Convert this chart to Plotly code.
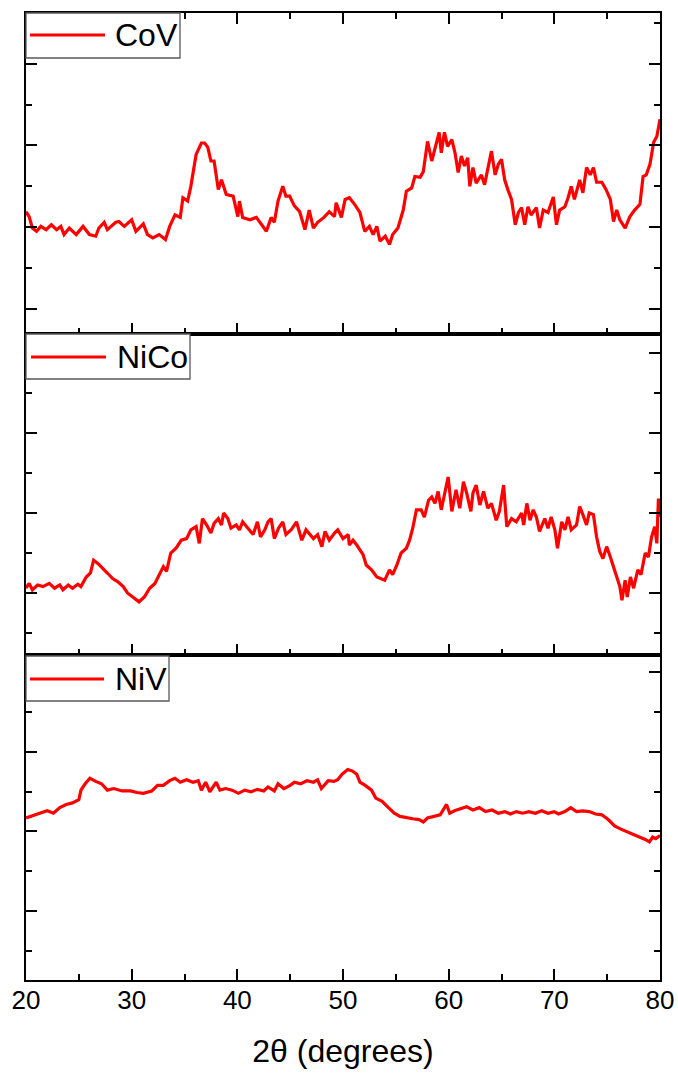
import plotly.graph_objects as go
from plotly.subplots import make_subplots

# ---------------- data ----------------
cov_2theta = [20.0, 20.3, 20.6, 21.0, 21.4, 21.9, 22.4, 22.9, 23.3, 23.6, 24.1, 24.75, 25.4, 26.0, 26.6, 26.9,
              27.4, 27.7, 28.5, 28.8, 29.3, 30.0, 30.4, 31.1, 31.5, 32.0, 32.6, 33.2, 33.6, 34.1, 34.6, 34.85,
              35.3, 35.6, 36.1, 36.6, 36.9, 37.2, 37.5, 37.8, 38.2, 38.5, 38.95, 39.6, 40.05, 40.2, 40.5, 41.2,
              41.8, 42.4, 42.75, 43.2, 43.5, 43.85, 44.3, 44.6, 44.95, 45.4, 45.9, 46.4, 46.8, 47.2, 47.6, 48.2,
              48.7, 49.2, 49.35, 49.85, 50.2, 50.6, 51.1, 51.6, 52.06, 52.5, 52.85, 53.2, 53.5, 54.0, 54.4, 54.7,
              55.2, 55.7, 56.0, 56.5, 56.8, 57.3, 57.6, 58.0, 58.4, 58.8, 59.1, 59.3, 59.6, 59.9, 60.3, 60.6,
              60.9, 61.2, 61.5, 61.8, 62.0, 62.3, 62.6, 63.1, 63.4, 63.7, 64.05, 64.4, 64.7, 65.0, 65.3, 65.6,
              65.95, 66.3, 66.6, 66.9, 67.2, 67.5, 67.8, 68.3, 68.6, 68.95, 69.4, 69.9, 70.2, 70.5, 71.0, 71.3,
              71.6, 71.9, 72.4, 72.7, 73.05, 73.4, 73.7, 74.0, 74.5, 74.9, 75.3, 75.6, 75.9, 76.2, 76.7, 77.15,
              77.6, 78.1, 78.4, 78.7, 79.05, 79.4, 79.7, 80.0]
cov_int = [1.19, 1.13, 0.99, 0.95, 1.01, 0.97, 1.03, 0.97, 1.01, 0.91, 0.99, 0.91, 1.01, 0.91, 0.89, 0.99,
           1.06, 0.97, 1.06, 1.07, 1.01, 1.09, 0.95, 1.04, 0.91, 0.87, 0.91, 0.85, 1.01, 1.15, 1.12, 1.36,
           1.32, 1.50, 1.89, 2.03, 2.03, 1.98, 1.81, 1.81, 1.46, 1.58, 1.40, 1.38, 1.13, 1.32, 1.12, 1.09,
           1.12, 1.01, 0.95, 1.12, 1.06, 1.32, 1.50, 1.38, 1.38, 1.26, 1.19, 0.97, 1.21, 0.99, 1.06, 1.12,
           1.19, 1.13, 1.30, 1.12, 1.34, 1.36, 1.28, 1.18, 0.95, 1.01, 0.91, 1.01, 0.83, 0.89, 0.79, 0.91,
           0.99, 1.21, 1.44, 1.48, 1.62, 1.61, 1.68, 2.05, 1.81, 2.01, 2.16, 1.91, 2.16, 1.99, 2.07, 1.91,
           1.67, 1.87, 1.75, 1.85, 1.50, 1.73, 1.54, 1.64, 1.52, 1.71, 1.93, 1.64, 1.77, 1.83, 1.58, 1.46,
           1.34, 1.03, 1.18, 1.24, 1.03, 1.25, 1.15, 1.24, 0.99, 1.21, 1.18, 1.37, 1.03, 1.21, 1.25, 1.36,
           1.50, 1.34, 1.58, 1.42, 1.73, 1.64, 1.73, 1.55, 1.55, 1.46, 1.34, 1.07, 1.21, 1.09, 0.99, 1.13,
           1.21, 1.28, 1.62, 1.64, 1.77, 2.04, 2.11, 2.32]

nico_2theta = [20.0, 20.3, 20.6, 21.1, 21.6, 22.2, 22.7, 23.2, 23.5, 24.0, 24.4, 24.9, 25.2, 25.7, 26.1, 26.4,
               26.8, 27.3, 27.7, 28.2, 28.7, 29.2, 29.6, 30.1, 30.7, 31.2, 31.7, 32.2, 32.6, 33.0, 33.3, 33.7,
               34.2, 34.7, 35.2, 35.6, 36.1, 36.4, 36.7, 37.1, 37.5, 37.8, 38.2, 38.5, 38.7, 39.1, 39.4, 39.9,
               40.2, 40.5, 41.0, 41.5, 41.9, 42.2, 42.6, 42.9, 43.2, 43.5, 43.9, 44.3, 44.6, 45.1, 45.6, 46.1,
               46.5, 47.2, 47.6, 48.0, 48.3, 48.7, 49.2, 49.5, 50.0, 50.5, 50.6, 50.95, 51.3, 51.6, 51.9, 52.2,
               52.7, 53.2, 53.6, 53.95, 54.4, 54.7, 55.1, 55.5, 56.0, 56.3, 56.6, 56.95, 57.4, 57.7, 58.1, 58.4,
               58.7, 59.0, 59.3, 59.6, 59.95, 60.3, 60.7, 61.05, 61.4, 61.7, 62.1, 62.3, 62.6, 62.95, 63.3, 63.7,
               64.05, 64.5, 64.8, 65.2, 65.5, 65.95, 66.4, 66.9, 67.1, 67.4, 67.7, 68.0, 68.3, 68.6, 69.1, 69.4,
               69.7, 70.05, 70.3, 70.7, 71.0, 71.3, 71.6, 72.1, 72.4, 72.7, 73.05, 73.3, 73.7, 74.0, 74.3, 74.6,
               74.95, 75.3, 75.6, 75.9, 76.2, 76.4, 76.7, 76.9, 77.2, 77.5, 77.9, 78.2, 78.6, 78.9, 79.2, 79.5,
               79.7, 79.85, 80.0]
nico_int = [0.06, 0.12, 0.04, 0.10, 0.08, 0.12, 0.06, 0.10, 0.04, 0.10, 0.06, 0.11, 0.08, 0.20, 0.25, 0.41,
            0.37, 0.31, 0.25, 0.18, 0.14, 0.08, 0.00, -0.05, -0.11, -0.05, 0.06, 0.12, 0.23, 0.33, 0.27, 0.50,
            0.56, 0.66, 0.68, 0.79, 0.83, 0.62, 0.93, 0.85, 0.75, 0.87, 0.93, 0.85, 1.00, 0.93, 0.81, 0.85,
            0.79, 0.89, 0.81, 0.73, 0.89, 0.70, 0.79, 0.89, 0.93, 0.68, 0.81, 0.89, 0.73, 0.79, 0.89, 0.66,
            0.79, 0.68, 0.73, 0.58, 0.77, 0.66, 0.75, 0.79, 0.68, 0.73, 0.60, 0.66, 0.60, 0.54, 0.48, 0.35,
            0.29, 0.20, 0.18, 0.16, 0.29, 0.23, 0.35, 0.50, 0.56, 0.66, 0.81, 1.04, 1.04, 0.95, 1.16, 1.20,
            1.12, 1.27, 1.04, 1.25, 1.45, 1.02, 1.29, 1.06, 1.39, 1.25, 1.02, 1.25, 1.35, 1.10, 1.27, 1.06,
            1.12, 0.91, 1.02, 1.35, 0.83, 0.93, 0.89, 1.00, 0.85, 1.12, 0.91, 1.04, 0.95, 0.77, 0.93, 0.81,
            0.95, 0.79, 0.56, 0.89, 0.79, 0.95, 0.79, 0.85, 1.08, 0.98, 0.85, 1.00, 0.98, 0.70, 0.52, 0.43,
            0.58, 0.45, 0.33, 0.20, 0.08, -0.09, 0.16, -0.05, 0.20, 0.06, 0.29, 0.23, 0.50, 0.45, 0.70, 0.83,
            0.62, 1.18, 0.95]

niv_2theta = [20.0, 20.9, 21.5, 22.0, 22.6, 23.2, 23.8, 24.4, 25.0, 25.2, 25.6, 26.05, 26.6, 27.15, 27.7, 28.3,
              29.1, 29.9, 30.5, 31.1, 31.9, 32.45, 33.0, 33.6, 34.1, 34.6, 35.2, 35.8, 36.3, 36.6, 37.0, 37.4,
              38.0, 38.35, 38.9, 39.5, 40.1, 40.7, 41.3, 41.9, 42.5, 42.9, 43.5, 43.85, 44.4, 45.0, 45.4, 46.0,
              46.6, 47.2, 47.6, 47.95, 48.6, 49.15, 49.5, 49.9, 50.45, 50.9, 51.3, 51.6, 52.1, 52.7, 53.1, 53.7,
              54.3, 54.85, 55.4, 56.0, 56.6, 57.2, 57.6, 58.0, 58.6, 59.2, 59.8, 60.1, 60.55, 61.1, 61.7, 62.3,
              62.9, 63.5, 64.1, 64.7, 65.3, 65.85, 66.4, 67.0, 67.6, 68.2, 68.8, 69.4, 69.98, 70.4, 71.0, 71.55,
              72.1, 72.7, 73.3, 73.9, 74.5, 75.1, 75.7, 76.3, 76.85, 77.45, 78.0, 78.6, 79.0, 79.3, 79.6, 80.0]
niv_int = [1.17, 1.21, 1.23, 1.26, 1.23, 1.30, 1.34, 1.36, 1.40, 1.52, 1.60, 1.67, 1.63, 1.60, 1.52, 1.54,
           1.51, 1.51, 1.49, 1.48, 1.51, 1.58, 1.58, 1.64, 1.67, 1.62, 1.65, 1.62, 1.64, 1.52, 1.62, 1.50,
           1.62, 1.52, 1.54, 1.52, 1.48, 1.52, 1.50, 1.53, 1.51, 1.56, 1.51, 1.60, 1.54, 1.58, 1.62, 1.60,
           1.64, 1.62, 1.65, 1.54, 1.64, 1.63, 1.65, 1.72, 1.78, 1.76, 1.72, 1.62, 1.58, 1.52, 1.42, 1.38,
           1.30, 1.23, 1.19, 1.17, 1.16, 1.15, 1.12, 1.17, 1.19, 1.21, 1.34, 1.23, 1.26, 1.28, 1.31, 1.27,
           1.30, 1.25, 1.27, 1.23, 1.25, 1.22, 1.25, 1.23, 1.25, 1.23, 1.26, 1.23, 1.25, 1.22, 1.25, 1.30,
           1.25, 1.26, 1.25, 1.22, 1.21, 1.15, 1.07, 1.03, 1.00, 0.96, 0.93, 0.90, 0.87, 0.93, 0.91, 0.95]

series_names = ["CoV", "NiCo", "NiV"]
x_ticks = [20, 30, 40, 50, 60, 70, 80]
y_ranges = [[-0.306, 3.62], [-0.775, 3.2375], [-0.868, 3.22]]

# ---------------- figure ----------------
W, H = 678, 1076
ML, MR, MT, MB = 26, 18, 13, 96
PW, PH = W - ML - MR, H - MT - MB

fig = make_subplots(rows=3, cols=1, shared_xaxes=True, vertical_spacing=0)
data = [(cov_2theta, cov_int), (nico_2theta, nico_int), (niv_2theta, niv_int)]
for i, (xs, ys) in enumerate(data):
    fig.add_trace(go.Scatter(x=xs, y=ys, mode="lines", name=series_names[i],
                             line=dict(color="#FF0000", width=3.2), showlegend=False),
                  row=i + 1, col=1)

panels_px = [(13, 334), (334, 655), (655, 980)]
def py(p):  # pixel y -> paper y
    return (H - MB - p) / PH
def px(p):  # pixel x -> paper x
    return (p - ML) / PW

font_fam = "Arial, Liberation Sans, Helvetica, sans-serif"
for i in range(3):
    top, bot = panels_px[i]
    yname = "yaxis" if i == 0 else f"yaxis{i+1}"
    xname = "xaxis" if i == 0 else f"xaxis{i+1}"
    fig.layout[yname].update(
        domain=[py(bot), py(top)], range=y_ranges[i], showticklabels=False, automargin=False,
        ticks="inside", ticklen=11, tickwidth=2, tickcolor="black", dtick=1, tick0=0,
        minor=dict(dtick=0.5, ticklen=6, tickwidth=2, ticks="inside", tickcolor="black"),
        showline=True, linewidth=2, linecolor="black", mirror="allticks",
        showgrid=False, zeroline=False)
    fig.layout[xname].update(
        range=[20, 80], tickvals=x_ticks, ticks="inside", ticklen=11, tickwidth=2,
        tickcolor="black", automargin=False,
        minor=dict(dtick=5, tick0=20, ticklen=6, tickwidth=2, ticks="inside", tickcolor="black"),
        showline=True, linewidth=2, linecolor="black",
        mirror="allticks" if i == 0 else True,
        showgrid=False, zeroline=False,
        tickfont=dict(family=font_fam, size=26, color="black"))

fig.layout.xaxis3.update(title=dict(text="2θ (degrees)", font=dict(family=font_fam, size=32, color="black"),
                                    standoff=25),
                         ticklabelstandoff=-4)

legends = [
    dict(box=(26, 180, 13, 58), line=(30, 105, 35), text_x=113, text_y=35),
    dict(box=(26, 190, 334, 379), line=(31, 106, 357), text_x=115, text_y=357),
    dict(box=(26, 169, 656, 701), line=(30, 104, 679), text_x=113, text_y=679),
]
for i, lg in enumerate(legends):
    x0, x1, y0, y1 = lg["box"]
    fig.add_shape(type="rect", xref="paper", yref="paper", x0=px(x0), x1=px(x1), y0=py(y1), y1=py(y0),
                  line=dict(color="#5a5a5a", width=1.3), fillcolor="white", layer="above")
    lx0, lx1, ly = lg["line"]
    fig.add_shape(type="line", xref="paper", yref="paper", x0=px(lx0), x1=px(lx1), y0=py(ly), y1=py(ly),
                  line=dict(color="#FF0000", width=3), layer="above")
    fig.add_annotation(xref="paper", yref="paper", x=px(lg["text_x"]), y=py(lg["text_y"]),
                       text=series_names[i], showarrow=False, xanchor="left", yanchor="middle",
                       font=dict(family=font_fam, size=32, color="black"))

fig.update_layout(width=W, height=H, margin=dict(l=ML, r=MR, t=MT, b=MB, autoexpand=False),
                  paper_bgcolor="white", plot_bgcolor="white", showlegend=False)

fig.write_html("out.html", config={"displayModeBar": False},
               post_script="document.body.style.margin='0px';document.body.style.overflow='hidden';")
